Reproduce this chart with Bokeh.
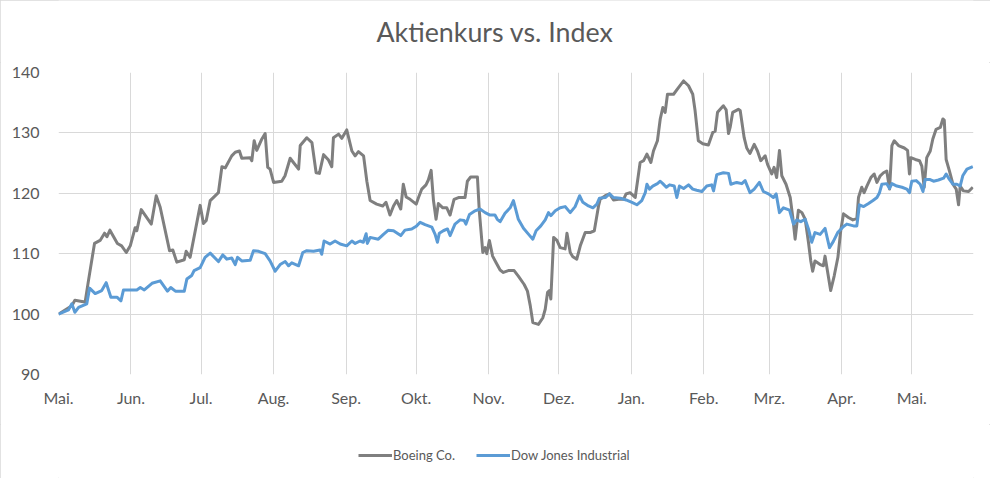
from bokeh.plotting import figure
from bokeh.layouts import column
from bokeh.models import Range1d, FixedTicker, Legend, LegendItem, Label
from bokeh.embed import file_html
from bokeh.resources import INLINE

# ---- data (day offset from 1 May, index value; start = 100) ----
month_days = [0, 31, 61, 92, 123, 153, 184, 214, 245, 276, 304, 335, 365]
month_labels = ["Mai.", "Jun.", "Jul.", "Aug.", "Sep.", "Okt.", "Nov.", "Dez.",
                "Jan.", "Feb.", "Mrz.", "Apr.", "Mai."]
y_ticks = [90, 100, 110, 120, 130, 140]
series_names = ["Boeing Co.", "Dow Jones Industrial"]
chart_title = "Aktienkurs vs. Index"

boeing_day = [0, 5.7, 7, 10, 11.4, 12.8, 15.4, 17.8, 19.7, 20.7, 22, 25.2, 27, 29, 30.7, 32.8, 33.5, 35.4, 39.7, 41.8,
              43.5, 47.5, 48.9, 50.6, 53.8, 54.6, 56.3, 60.6, 62, 63.2, 64.9, 68.4, 69.9, 71.3, 74.1, 75.6, 77.4, 78.4, 82, 82.7,
              83.7, 84.8, 87, 88.4, 89.5, 90.5, 92, 95.5, 96.9, 99.1, 100.5, 102.7, 103.4, 106.2, 108.4, 110.2, 111.6, 113.4, 115.5, 116.9,
              117.6, 119.8, 121.2, 123.3, 125.5, 126.9, 128.3, 130.5, 131.9, 133.3, 136.1, 138.7, 140.1, 141.8, 143.3, 144.7, 146.4, 147.5, 148.7, 150.4,
              153, 154, 155.4, 157.2, 158.2, 159.4, 160.4, 161.5, 162.5, 164.4, 166.1, 167.5, 169.2, 171.1, 173.9, 174.9, 176.3, 179.2, 180, 181.5,
              182.5, 183.2, 184.3, 185.7, 187.2, 188.9, 190.3, 192.4, 194.9, 196.7, 199.2, 200.6, 201.8, 202.9, 205.3, 207.2, 208.2, 209.2, 210, 210.6,
              211.8, 213.2, 214.6, 216.7, 217.5, 218.9, 220, 221.7, 223.2, 225.3, 227.4, 229.2, 231, 231.7, 233.9, 235.7, 237.4, 239.6, 241.7, 242.8,
              244.5, 246.7, 248.8, 250.3, 251.7, 253.4, 254.5, 256.2, 257.4, 258.5, 259.5, 260.5, 263.1, 265.2, 267.4, 269.5, 271.3, 272.3, 273.7, 275.6,
              278, 279.9, 280.9, 281.9, 284.4, 285.6, 286.6, 287.3, 288.4, 290.8, 291.6, 293.3, 294.4, 295.8, 297.6, 299, 300.4, 302.3, 303.3, 305.1,
              306.1, 307.2, 308.4, 309.4, 311.2, 313, 314.1, 315.1, 316.5, 318, 319.4, 320.8, 321.8, 322.6, 323.6, 325.8, 327.2, 327.9, 328.9, 330.3,
              331.8, 333.4, 334.6, 335.8, 337.9, 339.8, 341.5, 342.2, 343.6, 344.6, 345.8, 347.5, 348.9, 350.1, 351.5, 352.9, 354.3, 355.5, 356.5, 357.5,
              359.3, 361.8, 363.2, 364, 364.6, 366.5, 368.3, 369.3, 370.3, 371.4, 372.9, 374, 375.4, 377.2, 378.3, 378.9, 379.7, 381.1, 382.6, 384,
              385, 385.7, 387.1, 389.3, 391.1]
boeing_val = [100.0, 101.4, 102.3, 102.1, 102.0, 105.5, 111.7, 112.2, 113.4, 112.8, 113.9, 111.7, 111.3, 110.2, 111.3, 114.3, 113.8, 117.3, 114.9, 119.6,
              117.7, 110.5, 110.6, 108.6, 109.0, 110.4, 109.4, 118.0, 115.0, 115.5, 118.8, 120.1, 124.4, 124.2, 126.2, 126.8, 127.0, 125.8, 125.9, 125.4,
              128.7, 127.1, 129.0, 129.9, 124.3, 124.0, 121.8, 122.0, 122.9, 125.8, 125.1, 124.0, 127.9, 129.2, 128.4, 123.4, 123.3, 126.4, 125.5, 124.4,
              129.2, 129.8, 129.1, 130.5, 127.0, 126.2, 126.9, 126.2, 122.0, 118.8, 118.2, 117.9, 118.5, 116.4, 117.9, 118.8, 117.4, 121.5, 119.4, 119.0,
              118.2, 119.3, 120.7, 121.4, 122.2, 123.8, 118.8, 115.7, 118.3, 117.6, 117.6, 116.4, 119.0, 119.3, 119.3, 122.0, 122.7, 122.7, 117.1, 110.2,
              111.0, 110.0, 112.2, 109.6, 108.5, 107.3, 106.9, 107.2, 107.2, 106.3, 104.9, 103.8, 101.4, 98.6, 98.3, 99.4, 100.8, 103.6, 103.9, 102.5,
              112.7, 112.2, 111.0, 110.8, 113.4, 110.2, 109.5, 109.1, 111.3, 113.5, 113.5, 113.8, 117.9, 119.0, 119.6, 119.9, 118.9, 119.0, 119.0, 119.9,
              120.1, 119.3, 125.1, 125.4, 126.5, 125.1, 127.0, 128.7, 132.3, 134.2, 133.4, 136.4, 136.4, 137.5, 138.6, 137.8, 136.4, 133.7, 128.7, 128.2,
              128.0, 130.1, 130.3, 133.4, 134.5, 133.8, 129.9, 130.9, 133.4, 133.9, 133.7, 129.2, 127.5, 126.6, 128.1, 127.0, 125.4, 126.2, 124.8, 123.2,
              124.3, 122.6, 127.1, 122.9, 121.5, 119.3, 116.0, 112.4, 117.2, 116.8, 115.7, 111.9, 108.8, 107.1, 108.8, 108.2, 108.0, 109.6, 107.2, 103.9,
              106.3, 109.4, 113.8, 116.6, 116.0, 115.6, 115.8, 119.3, 121.0, 120.1, 121.2, 122.6, 123.2, 121.8, 122.9, 123.4, 123.7, 120.7, 127.9, 128.7,
              127.9, 127.5, 127.1, 123.2, 125.9, 125.6, 125.4, 124.5, 121.0, 125.9, 127.0, 129.0, 130.6, 130.9, 132.3, 132.1, 125.6, 123.7, 121.5, 120.7,
              118.1, 121.2, 120.4, 120.3, 121.0]

dow_day = [0, 4.3, 5.7, 7, 8.6, 12.1, 13.3, 15.7, 18.5, 20.4, 22.4, 25, 26.7, 27.8, 33.5, 35, 36.7, 40, 43.5, 46.6,
           48, 50, 53.8, 54.9, 57, 58, 60.6, 62.7, 64.9, 68.4, 70.3, 72, 74.1, 75.6, 76.6, 78.4, 82, 83.4, 85.6, 88.4,
           90.5, 92.7, 94.8, 97, 98.4, 99.8, 102.7, 104.5, 106.2, 109.1, 111.9, 112.6, 113.6, 116.2, 118.3, 120.5, 123.3, 125.5, 126.9, 129,
           130.4, 131.6, 132.1, 133.3, 136.8, 139, 141.1, 143.3, 146.4, 148.2, 151.1, 153.2, 154.7, 156.8, 159.7, 161.1, 162.1, 162.9, 164.6, 166.4,
           167.5, 169.6, 171.8, 173.5, 174.3, 175.8, 178.2, 180.3, 182.5, 184.6, 186.7, 187.7, 188.9, 191, 193.2, 194.6, 196.7, 198.9, 201.1, 202.9,
           204.3, 206.3, 208.2, 209.6, 210.6, 212.5, 214.6, 216.7, 218.9, 221, 222.9, 224.3, 226.7, 228.6, 230.3, 231.4, 233.9, 235.7, 237.4, 240.3,
           242.8, 245.3, 247.4, 249.5, 251, 251.7, 252.8, 254.2, 256.2, 257.4, 258.5, 260, 261.4, 263.4, 264.5, 265.6, 267.4, 269.5, 271.3, 273,
           275.2, 277.3, 279.4, 280.2, 281.6, 284.4, 286.6, 287.6, 290.1, 292.3, 293.7, 295.8, 297.6, 299.8, 301.5, 303.7, 305.8, 307, 308.4, 310.1,
           312.7, 314.4, 315.8, 317.5, 319.4, 320.8, 322.2, 323.6, 325.8, 327.9, 329.8, 331.4, 333.3, 335.8, 337.2, 340.1, 341.5, 342.6, 344.4, 346.5,
           348.4, 350.1, 351.2, 352.2, 354.3, 355.5, 356.5, 358.6, 360.8, 362.9, 364, 365, 366.9, 368.6, 369.8, 370.7, 372.6, 374.3, 376.4, 378.6,
           379.7, 381.1, 382.6, 384.3, 385.7, 386.8, 388.6, 391.1]
dow_val = [100.0, 100.7, 101.7, 100.3, 101.1, 101.7, 104.3, 103.4, 103.9, 105.2, 102.8, 102.8, 102.2, 104.0, 104.0, 104.4, 104.0, 105.1, 105.5, 103.8,
           104.4, 103.8, 103.8, 105.8, 106.4, 107.2, 107.7, 109.4, 110.1, 108.7, 109.8, 109.1, 109.3, 108.2, 109.4, 108.8, 108.9, 110.5, 110.4, 110.0,
           108.8, 107.1, 108.2, 108.7, 108.0, 108.5, 108.0, 110.2, 110.5, 110.4, 110.6, 109.9, 112.1, 111.6, 112.1, 111.6, 111.3, 112.1, 111.7, 112.1,
           111.9, 113.3, 111.7, 112.7, 112.4, 113.2, 113.9, 113.8, 113.0, 113.9, 114.1, 114.6, 115.2, 114.8, 114.4, 113.2, 111.9, 113.4, 113.8, 114.1,
           113.0, 114.9, 115.6, 115.5, 114.9, 116.5, 117.1, 117.4, 116.8, 116.4, 116.4, 115.7, 115.3, 116.7, 117.6, 118.8, 115.7, 114.2, 113.2, 112.4,
           113.8, 114.6, 115.6, 116.8, 116.3, 117.1, 117.6, 117.8, 116.8, 117.8, 119.6, 118.5, 117.9, 117.6, 118.2, 119.2, 119.3, 119.9, 119.3, 119.2,
           118.9, 118.5, 118.1, 118.8, 120.1, 121.5, 120.7, 121.2, 121.6, 122.0, 121.6, 121.0, 121.4, 121.2, 119.3, 121.2, 120.8, 121.4, 120.7, 120.5,
           120.3, 121.2, 121.4, 120.4, 123.1, 123.4, 123.3, 121.5, 121.8, 121.6, 122.1, 120.1, 120.7, 121.8, 120.3, 119.9, 119.3, 119.9, 116.8, 117.6,
           117.2, 114.9, 115.6, 115.3, 115.7, 114.1, 111.9, 113.5, 113.2, 114.2, 111.0, 112.0, 113.5, 114.5, 114.9, 114.6, 114.6, 118.1, 117.8, 118.3,
           118.8, 119.3, 120.1, 121.5, 121.6, 120.8, 121.6, 121.2, 121.0, 120.7, 120.1, 122.0, 122.1, 121.5, 120.3, 122.3, 122.3, 122.0, 122.2, 122.5,
           123.2, 122.3, 121.5, 121.5, 121.2, 122.9, 124.0, 124.4]

TEXT = "#595959"
GRID = "#d9d9d9"
FONT = "Lato"
C_BOEING = "#7f7f7f"
C_DOW = "#5b9bd5"


def strip(height, y_max):
    f = figure(width=990, height=height, output_backend="svg", toolbar_location=None,
               x_axis_type=None, y_axis_type=None,
               x_range=Range1d(0, 1), y_range=Range1d(0, y_max),
               min_border_left=0, min_border_right=0, min_border_top=0, min_border_bottom=0)
    f.outline_line_color = None
    f.xgrid.visible = False
    f.ygrid.visible = False
    return f


# ---- title strip ----
top = strip(62, 62)
top.add_layout(Label(x=0.477, y=30.5, text=chart_title, text_align="center",
                     text_baseline="alphabetic", text_font=FONT, text_font_size="26.8px",
                     text_color=TEXT))

# ---- main chart ----
p = figure(width=990, height=362, output_backend="svg", toolbar_location=None,
           x_range=Range1d(0, 391.4), y_range=Range1d(90, 140),
           min_border_left=58, min_border_right=17, min_border_top=10, min_border_bottom=50)
p.outline_line_color = None

p.line(boeing_day, boeing_val, line_color=C_BOEING, line_width=3, line_join="round")
p.line(dow_day, dow_val, line_color=C_DOW, line_width=3, line_join="round")

p.xaxis.ticker = FixedTicker(ticks=month_days)
p.xaxis.major_label_overrides = {d: lab for d, lab in zip(month_days, month_labels)}
p.yaxis.ticker = FixedTicker(ticks=y_ticks)
for ax in (p.xaxis, p.yaxis):
    ax.axis_line_color = None
    ax.major_tick_line_color = None
    ax.minor_tick_line_color = None
    ax.major_tick_out = 0
    ax.major_tick_in = 0
    ax.minor_tick_out = 0
    ax.major_label_text_font = FONT
    ax.major_label_text_font_size = "16px"
    ax.major_label_text_color = TEXT
p.xaxis.major_label_standoff = 13
p.yaxis.major_label_standoff = 19

p.xgrid.ticker = FixedTicker(ticks=month_days)
p.ygrid.ticker = FixedTicker(ticks=y_ticks)
p.xgrid.grid_line_color = GRID
p.ygrid.grid_line_color = GRID

# ---- legend strip below the chart (series drawn out of view, only swatches show) ----
lg = strip(54, 1)
s1 = lg.line(boeing_day, boeing_val, line_color=C_BOEING, line_width=3)
s2 = lg.line(dow_day, dow_val, line_color=C_DOW, line_width=3)
legend = Legend(items=[LegendItem(label=series_names[0], renderers=[s1]),
                       LegendItem(label=series_names[1], renderers=[s2])],
                orientation="horizontal", location=(300, 15), padding=0, margin=0,
                border_line_color=None, background_fill_alpha=0,
                glyph_width=34, glyph_height=16, label_height=16, label_standoff=1,
                spacing=21, label_text_font=FONT, label_text_font_size="13px",
                label_text_color=TEXT)
lg.add_layout(legend, "center")

page = column(top, p, lg, spacing=0)
page.styles = {"outline": "1px solid #d9d9d9", "outline-offset": "-1px"}

open("out.html", "w").write(file_html(page, INLINE))
